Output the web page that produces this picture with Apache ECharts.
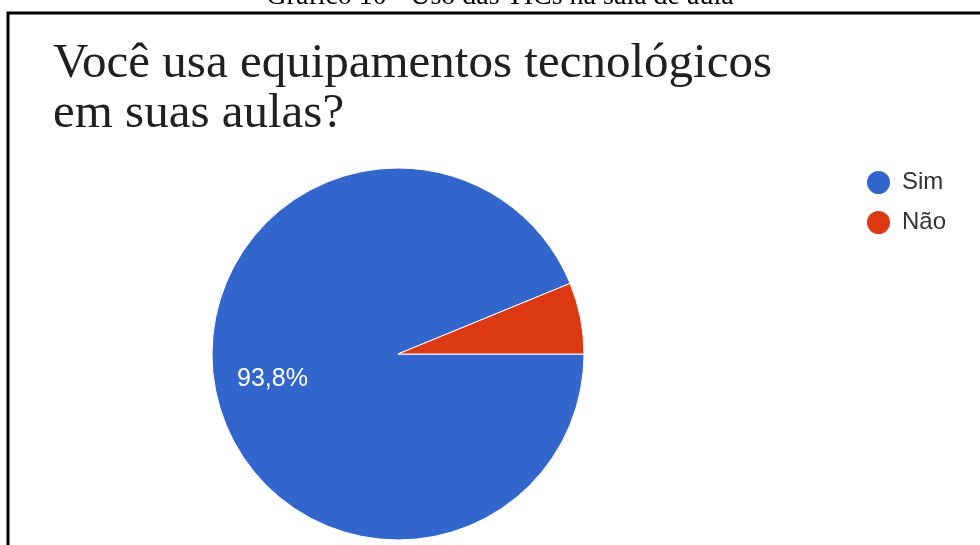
<!DOCTYPE html>
<html>
<head>
<meta charset="utf-8">
<script src="https://cdn.jsdelivr.net/npm/echarts@6/dist/echarts.min.js"></script>
<style>
html,body{margin:0;padding:0;background:#fff;}
#chart{width:980px;height:545px;}
</style>
</head>
<body>
<div id="chart"></div>
<script>
const caption = 'Gráfico 10 - Uso das TICs na sala de aula';
const titleText = 'Você usa equipamentos tecnológicos\nem suas aulas?';
const categories = ['Sim', 'Não'];
const values = [93.8, 6.2];
const colors = ['#3366cc', '#dc3912'];

const data = categories.map((c, i) => ({ name: c, value: values[i] }));

const chart = echarts.init(document.getElementById('chart'));
chart.setOption({
  backgroundColor: '#ffffff',
  animation: false,
  color: colors,
  title: {
    text: titleText,
    left: 48,
    top: 34,
    textStyle: {
      fontFamily: 'Liberation Serif',
      fontSize: 49,
      fontWeight: 'normal',
      lineHeight: 50,
      color: '#202020'
    }
  },
  legend: {
    orient: 'vertical',
    left: 860,
    top: 164,
    icon: 'circle',
    itemWidth: 25,
    itemHeight: 25,
    itemGap: 13,
    data: categories,
    textStyle: {
      fontFamily: 'Liberation Sans',
      fontSize: 24,
      color: '#333333',
      padding: [0, 0, 0, 6]
    }
  },
  graphic: [
    {
      type: 'rect',
      shape: { x: 8, y: 13, width: 1000, height: 600 },
      style: { fill: 'none', stroke: '#000', lineWidth: 3 },
      z: 100
    },
    {
      type: 'text',
      x: 500,
      y: -3,
      style: {
        text: caption,
        fontFamily: 'Liberation Serif',
        fontSize: 28,
        fill: '#000',
        align: 'center',
        verticalAlign: 'middle'
      }
    }
  ],
  series: [
    {
      type: 'pie',
      center: [398, 354],
      radius: [0, 186],
      startAngle: 0,
      clockwise: true,
      data: data,
      label: { show: false },
      labelLine: { show: false },
      itemStyle: { borderColor: '#ffffff', borderWidth: 1 },
      emphasis: { disabled: true }
    },
    {
      type: 'pie',
      center: [398, 354],
      radius: [64, 186],
      startAngle: 0,
      clockwise: true,
      silent: true,
      data: data.map((d, i) => ({
        name: d.name,
        value: d.value,
        label: { show: i === 0 }
      })),
      itemStyle: { color: 'rgba(0,0,0,0)' },
      label: {
        position: 'inside',
        formatter: p => p.value.toFixed(1).replace('.', ',') + '%',
        color: '#ffffff',
        fontFamily: 'Liberation Sans',
        fontSize: 25
      },
      labelLine: { show: false },
      emphasis: { disabled: true }
    }
  ]
});
</script>
</body>
</html>
